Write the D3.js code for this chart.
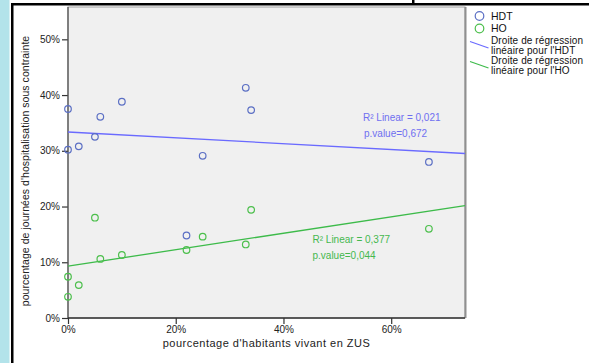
<!DOCTYPE html>
<html><head><meta charset="utf-8">
<script src="https://cdn.jsdelivr.net/npm/d3@7"></script>
<style>body{margin:0;background:#fff}svg{display:block}text{font-family:"Liberation Sans",Arial,sans-serif}</style>
</head><body><svg id="c" width="589" height="363"></svg>
<script>
// ---- data ----
const zusPct = [0, 0, 2, 5, 6, 10, 22, 25, 33, 34, 67];
const hdtValues = [37.5, 30.2, 30.8, 32.5, 36.1, 38.8, 14.8, 29.1, 41.3, 37.3, 28.0];
const hoValues = [7.4, 3.8, 5.9, 18.0, 10.6, 11.3, 12.2, 14.6, 13.2, 19.4, 16.0];
const yTickValues = [0, 10, 20, 30, 40, 50];
const xTickValues = [0, 20, 40, 60];
const seriesNames = ["HDT", "HO"];
const fitLabels = [["Droite de régression", "linéaire pour l'HDT"], ["Droite de régression", "linéaire pour l'HO"]];
const annotHDT = ["R² Linear = 0,021", "p.value=0,672"];
const annotHO = ["R² Linear = 0,377", "p.value=0,044"];
const xTitle = "pourcentage d'habitants vivant en ZUS";
const yTitle = "pourcentage de journées d'hospitalisation sous contrainte";

// ---- styles ----
const C = {
  hdtPt: "#5b6fc4", hoPt: "#4cbf4c",
  hdtLine: "#6a6aff", hoLine: "#3dbb4a",
  hdtTxt: "#6f6ff0", hoTxt: "#45b84f"
};

const svg = d3.select("#c");
const L = 68, R = 465, T = 7, B = 318;
const x = d3.scaleLinear().domain([0, 73.7]).range([L, R]);
const y = d3.scaleLinear().domain([0, 55.8]).range([B, T]);

// frame decorations
svg.append("rect").attr("x", 0).attr("y", 0).attr("width", 9.5).attr("height", 363).attr("fill", "#b3e3ea");
svg.append("rect").attr("x", 11).attr("y", 3).attr("width", 578).attr("height", 2.5).attr("fill", "#000");
svg.append("rect").attr("x", 11).attr("y", 3).attr("width", 2.5).attr("height", 360).attr("fill", "#000");
svg.append("rect").attr("x", 412).attr("y", 0).attr("width", 2.5).attr("height", 4).attr("fill", "#000");

// plot background
svg.append("rect").attr("x", L).attr("y", T).attr("width", R - L).attr("height", B - T)
  .attr("fill", "#f0f0f0").attr("stroke", "#a0a0a0").attr("stroke-width", 1);
svg.append("line").attr("x1", R + 0.5).attr("x2", R + 0.5).attr("y1", T).attr("y2", B)
  .attr("stroke", "#909090").attr("stroke-width", 2);

// axes
const yAxis = d3.axisLeft(y).tickValues(yTickValues).tickFormat(d => d + "%").tickSize(6).tickPadding(2);
const gy = svg.append("g").attr("transform", `translate(${L},0)`).call(yAxis);
const xAxis = d3.axisBottom(x).tickValues(xTickValues).tickFormat(d => d + "%").tickSize(6).tickPadding(2);
const gx = svg.append("g").attr("transform", `translate(0,${B})`).call(xAxis);
[gy, gx].forEach(g => {
  g.select(".domain").remove();
  g.selectAll("line").attr("stroke", "#333").attr("stroke-width", 1.2);
  g.selectAll("text").attr("fill", "#222").style("font-size", "10px").style("font-family", '"Liberation Sans",Arial,sans-serif');
});
svg.append("line").attr("x1", L).attr("x2", L).attr("y1", T).attr("y2", B).attr("stroke", "#555").attr("stroke-width", 1.3);
svg.append("line").attr("x1", L).attr("x2", R).attr("y1", B).attr("y2", B).attr("stroke", "#333").attr("stroke-width", 1.3);

// axis titles
svg.append("text").attr("x", (L + R) / 2).attr("y", 347).attr("text-anchor", "middle")
  .attr("fill", "#222").style("font-size", "11px").style("letter-spacing", "0.5px").text(xTitle);
svg.append("text").attr("transform", `translate(29,171) rotate(-90)`).attr("text-anchor", "middle")
  .attr("fill", "#222").style("font-size", "10.5px").style("letter-spacing", "0.05px").text(yTitle);

// regression from data
function fit(xs, ys) {
  const mx = d3.mean(xs), my = d3.mean(ys);
  let sxy = 0, sxx = 0;
  xs.forEach((v, i) => { sxy += (v - mx) * (ys[i] - my); sxx += (v - mx) ** 2; });
  const b = sxy / sxx; return { a: my - b * mx, b };
}
const xd = x.domain();
[[hdtValues, C.hdtLine], [hoValues, C.hoLine]].forEach(([vals, col]) => {
  const f = fit(zusPct, vals);
  svg.append("line").attr("x1", x(xd[0])).attr("y1", y(f.a + f.b * xd[0]))
    .attr("x2", x(xd[1])).attr("y2", y(f.a + f.b * xd[1]))
    .attr("stroke", col).attr("stroke-width", 1.3);
});

// points
[[hdtValues, C.hdtPt], [hoValues, C.hoPt]].forEach(([vals, col]) => {
  svg.append("g").selectAll("circle").data(zusPct.map((v, i) => [v, vals[i]])).join("circle")
    .attr("cx", d => x(d[0])).attr("cy", d => y(d[1])).attr("r", 3.3)
    .attr("fill", "none").attr("stroke", col).attr("stroke-width", 1.2);
});

// annotations
annotHDT.forEach((t, i) => svg.append("text").attr("x", 363 + i).attr("y", 120.5 + i * 16.7)
  .attr("fill", C.hdtTxt).style("font-size", "10px").text(t));
annotHO.forEach((t, i) => svg.append("text").attr("x", 312.5).attr("y", 242.5 + i * 16.7)
  .attr("fill", C.hoTxt).style("font-size", "10px").text(t));

// legend
const lg = svg.append("g");
[C.hdtPt, C.hoPt].forEach((col, i) => {
  lg.append("circle").attr("cx", 479.5).attr("cy", 16 + i * 12.5).attr("r", 4.3)
    .attr("fill", "none").attr("stroke", col).attr("stroke-width", 1.2);
  lg.append("text").attr("x", 491).attr("y", 19.8 + i * 12.5).attr("fill", "#111")
    .style("font-size", "10.5px").text(seriesNames[i]);
});
[C.hdtLine, C.hoLine].forEach((col, i) => {
  const oy = i * 20;
  lg.append("line").attr("x1", 470).attr("y1", 41.5 + oy).attr("x2", 488.5).attr("y2", 48 + oy)
    .attr("stroke", col).attr("stroke-width", 1.2);
  fitLabels[i].forEach((t, j) => lg.append("text").attr("x", 491).attr("y", 44 + oy + j * 9.6)
    .attr("fill", "#111").style("font-size", "10px").style("letter-spacing", "0.1px").text(t));
});
</script></body></html>
